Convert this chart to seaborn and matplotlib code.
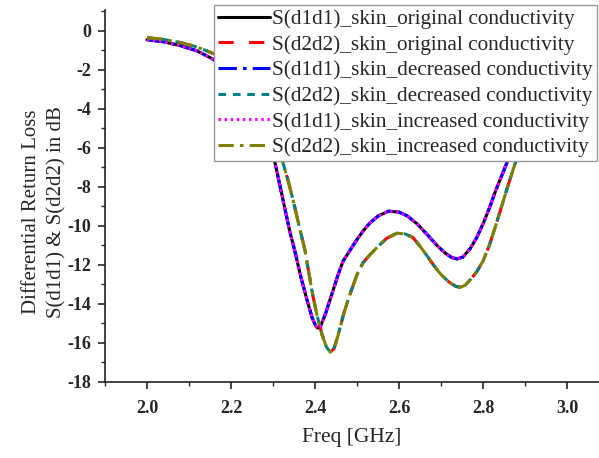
import numpy as np
import pandas as pd
import matplotlib
matplotlib.use("Agg")
import matplotlib.pyplot as plt
import seaborn as sns
from matplotlib.ticker import MultipleLocator

# ---- data ----
freq_d1 = [2.00, 2.04, 2.08, 2.12, 2.16, 2.20, 2.23, 2.26, 2.285, 2.305, 2.324, 2.34,
           2.352, 2.366, 2.381, 2.393, 2.402, 2.407, 2.413, 2.425, 2.443, 2.455, 2.467,
           2.485, 2.50, 2.515, 2.531, 2.55, 2.575, 2.60, 2.62, 2.643, 2.667, 2.69, 2.71,
           2.725, 2.738, 2.752, 2.77, 2.785, 2.80, 2.815, 2.83, 2.845, 2.86, 2.88, 2.90]
d1_orig = [-0.47, -0.58, -0.78, -1.05, -1.5, -2.2, -3.0, -4.1, -5.4, -6.8, -8.7, -10.3,
           -11.3, -12.6, -13.8, -14.7, -15.15, -15.24, -15.15, -14.5, -13.3, -12.5, -11.8,
           -11.2, -10.7, -10.25, -9.85, -9.5, -9.25, -9.3, -9.5, -9.9, -10.45, -11.0, -11.4,
           -11.62, -11.7, -11.6, -11.15, -10.6, -9.9, -9.1, -8.2, -7.4, -6.6, -5.6, -4.5]
# the decreased / increased conductivity curves are indistinguishable from the original
d1_dec = list(d1_orig)
d1_inc = list(d1_orig)

freq_d2 = [2.00, 2.04, 2.08, 2.12, 2.16, 2.20, 2.24, 2.27, 2.30, 2.324, 2.336, 2.348,
           2.362, 2.376, 2.386, 2.395, 2.405, 2.417, 2.427, 2.436, 2.445, 2.455, 2.467,
           2.48, 2.49, 2.50, 2.514, 2.53, 2.548, 2.57, 2.595, 2.615, 2.633, 2.65, 2.667,
           2.685, 2.70, 2.72, 2.735, 2.745, 2.757, 2.77, 2.785, 2.80, 2.815, 2.83, 2.845,
           2.86, 2.875, 2.89, 2.92]
d2_orig = [-0.37, -0.46, -0.62, -0.85, -1.2, -1.8, -2.8, -3.9, -5.3, -6.8, -7.7, -8.7,
           -10.0, -11.25, -12.5, -13.6, -14.6, -15.6, -16.2, -16.47, -16.3, -15.6, -14.6,
           -13.7, -13.1, -12.5, -11.9, -11.5, -11.1, -10.65, -10.38, -10.42, -10.6, -11.05,
           -11.55, -12.1, -12.5, -12.9, -13.1, -13.15, -13.05, -12.75, -12.35, -11.8, -11.0,
           -10.0, -8.95, -7.9, -6.9, -6.0, -4.5]
d2_dec = list(d2_orig)
d2_inc = list(d2_orig)

labels = ["S(d1d1)_skin_original conductivity",
          "S(d2d2)_skin_original conductivity",
          "S(d1d1)_skin_decreased conductivity",
          "S(d2d2)_skin_decreased conductivity",
          "S(d1d1)_skin_increased conductivity",
          "S(d2d2)_skin_increased conductivity"]

series = [(freq_d1, d1_orig), (freq_d2, d2_orig), (freq_d1, d1_dec),
          (freq_d2, d2_dec), (freq_d1, d1_inc), (freq_d2, d2_inc)]

colors = ["#000000", "#ff0000", "#0000ff", "#008080", "#ff00ff", "#808000"]
dashes = [None, (5, 5), (6, 2, 1.2, 2), (2.5, 2.2), (0.8, 1.2), (5, 2, 1.2, 2)]

sns.set_style("ticks")
plt.rcParams['font.family'] = ['Liberation Serif', 'DejaVu Serif']
plt.rcParams['axes.unicode_minus'] = False

fig = plt.figure(figsize=(5.99, 4.58), dpi=100)
ax = fig.add_axes([105/599, 1 - 382/458, 1 - 105/599, (382 - 10)/458])

for (fx, fy), lab, c, d in zip(series, labels, colors, dashes):
    df = pd.DataFrame({"f": fx, "v": fy})
    sns.lineplot(data=df, x="f", y="v", ax=ax, color=c, lw=2.2, label=lab, sort=False)
    line = ax.get_lines()[-1]
    if d is not None:
        line.set_dashes(d)

ax.set_xlim(1.9, 3.076)
ax.set_ylim(-18, 1.05)
ax.xaxis.set_minor_locator(MultipleLocator(0.1))
ax.yaxis.set_major_locator(MultipleLocator(2))
ax.yaxis.set_minor_locator(MultipleLocator(1))
ax.set_xticks([2.0, 2.2, 2.4, 2.6, 2.8, 3.0])
ax.set_xticklabels(["2.0", "2.2", "2.4", "2.6", "2.8", "3.0"])
ax.tick_params(axis='both', which='major', direction='out', length=5, width=1.2,
               labelsize=13, pad=5)
ax.tick_params(axis='both', which='minor', direction='out', length=3, width=1.0)
ax.tick_params(axis='x', which='major', pad=8)
for t in ax.get_xticklabels() + ax.get_yticklabels():
    t.set_fontweight('bold')

for s in ["top", "right"]:
    ax.spines[s].set_visible(False)
for s in ["left", "bottom"]:
    ax.spines[s].set_linewidth(1.2)
    ax.spines[s].set_color("#222222")

ax.set_xlabel("Freq [GHz]", fontsize=15.5, labelpad=8)
ax.set_ylabel("Differential Return Loss\nS(d1d1) & S(d2d2) in dB", fontsize=15,
              linespacing=1.45)
ax.yaxis.label.set_va('center')
ax.yaxis.set_label_coords(-0.123, 0.457)

leg = ax.legend(loc="upper left", bbox_to_anchor=(214/599, 1 - 5/458),
                bbox_transform=fig.transFigure, fontsize=15.3, frameon=True,
                fancybox=False, framealpha=1, edgecolor="#999999",
                handlelength=2.45, handletextpad=0.1, borderpad=0.2,
                labelspacing=0.27, borderaxespad=0)
leg.get_frame().set_linewidth(1.0)
for lh, d in zip(leg.get_lines(), dashes):
    lh.set_linewidth(2.2)
    if d is not None:
        lh.set_dashes(d)

fig.savefig("out.png", dpi=100)
